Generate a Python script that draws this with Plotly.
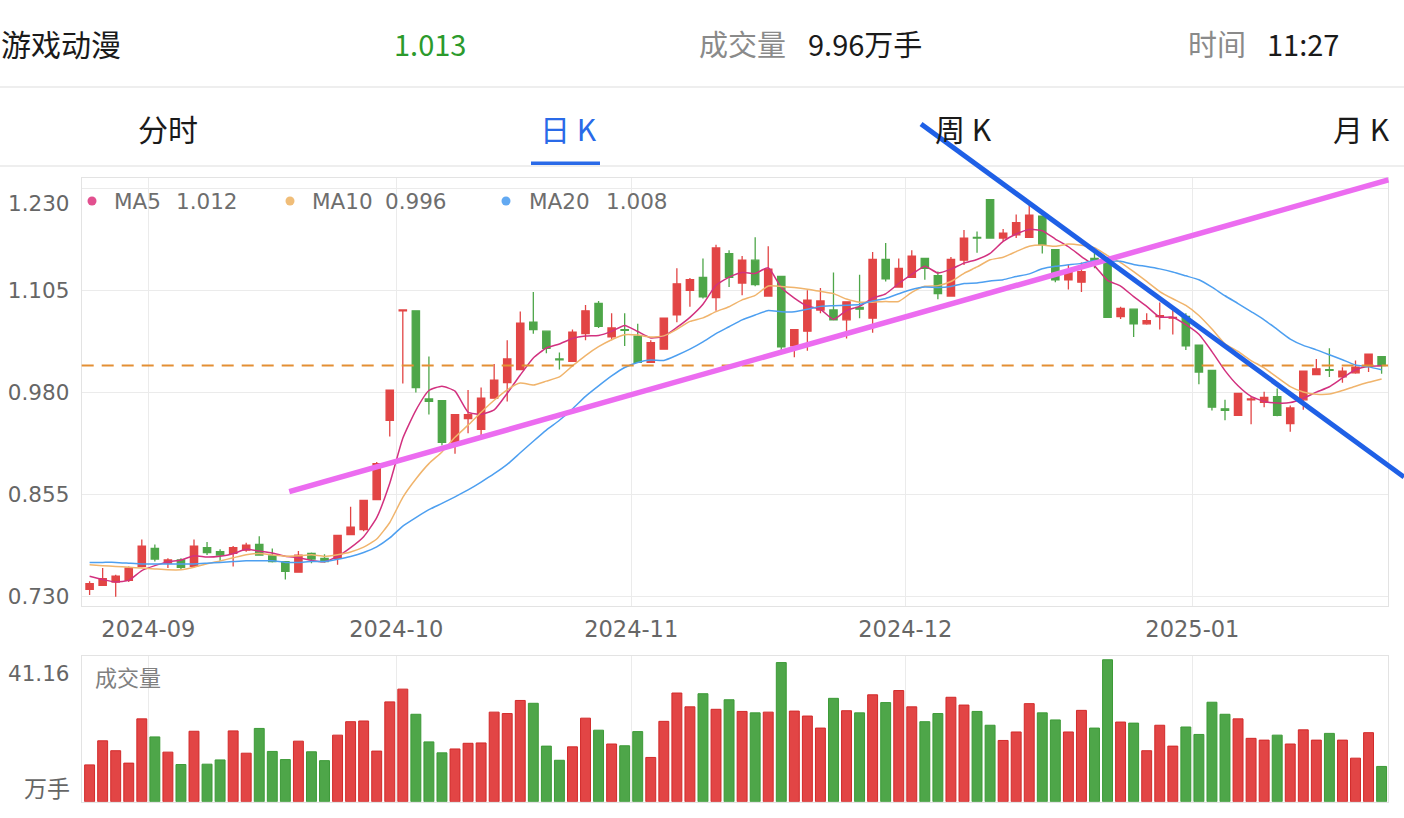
import plotly.graph_objects as go
import pandas as pd

# ---------------- data ----------------
holidays = ["2024-09-16", "2024-09-17", "2024-10-01", "2024-10-02", "2024-10-03",
            "2024-10-04", "2024-10-07", "2025-01-01"]
dates = [d for d in pd.bdate_range("2024-08-26", "2025-01-22")
         if d.strftime("%Y-%m-%d") not in holidays]

open_ = [0.739, 0.744, 0.748, 0.750, 0.767, 0.789, 0.771, 0.775, 0.767, 0.790,
         0.785, 0.783, 0.787, 0.794, 0.780, 0.773, 0.760, 0.783, 0.777, 0.777,
         0.806, 0.812, 0.849, 0.946, 1.080, 1.080, 0.972, 0.970, 0.919, 0.948,
         0.935, 0.973, 0.992, 1.008, 1.066, 1.055, 1.021, 1.018, 1.052, 1.089,
         1.048, 1.057, 1.049, 1.017, 1.033, 1.075, 1.105, 1.121, 1.096, 1.150,
         1.114, 1.142, 1.098, 1.122, 1.037, 1.055, 1.081, 1.081, 1.069, 1.084,
         1.071, 1.143, 1.109, 1.121, 1.144, 1.123, 1.098, 1.142, 1.170, 1.216,
         1.169, 1.173, 1.170, 1.196, 1.155, 1.118, 1.115, 1.144, 1.139, 1.073,
         1.082, 1.064, 1.073, 1.071, 1.073, 1.038, 1.007, 0.960, 0.952, 0.971,
         0.968, 0.975, 0.942, 0.971, 1.002, 1.008, 0.999, 1.004, 1.012, 1.024]
high = [0.749, 0.765, 0.757, 0.767, 0.800, 0.794, 0.777, 0.777, 0.800, 0.797,
        0.788, 0.792, 0.796, 0.804, 0.789, 0.773, 0.786, 0.784, 0.782, 0.805,
        0.840, 0.848, 0.895, 0.983, 1.081, 1.080, 1.024, 0.970, 0.953, 0.983,
        0.986, 1.015, 1.044, 1.079, 1.103, 1.055, 1.029, 1.057, 1.087, 1.092,
        1.077, 1.077, 1.064, 1.044, 1.071, 1.132, 1.120, 1.144, 1.161, 1.154,
        1.147, 1.170, 1.159, 1.122, 1.057, 1.105, 1.108, 1.127, 1.091, 1.124,
        1.152, 1.163, 1.144, 1.154, 1.144, 1.128, 1.146, 1.179, 1.177, 1.216,
        1.180, 1.198, 1.210, 1.196, 1.155, 1.136, 1.139, 1.152, 1.142, 1.085,
        1.082, 1.077, 1.090, 1.081, 1.077, 1.038, 1.007, 0.971, 0.979, 0.975,
        0.981, 0.985, 0.964, 1.006, 1.021, 1.034, 1.011, 1.019, 1.027, 1.024]
low = [0.732, 0.743, 0.730, 0.748, 0.766, 0.773, 0.765, 0.764, 0.766, 0.781,
       0.774, 0.767, 0.785, 0.781, 0.772, 0.751, 0.760, 0.771, 0.772, 0.769,
       0.806, 0.810, 0.849, 0.926, 0.991, 0.980, 0.953, 0.915, 0.905, 0.930,
       0.928, 0.973, 0.969, 1.008, 1.052, 1.028, 1.008, 1.018, 1.044, 1.059,
       1.044, 1.037, 1.016, 1.017, 1.033, 1.066, 1.085, 1.095, 1.080, 1.109,
       1.099, 1.110, 1.098, 1.032, 1.023, 1.031, 1.077, 1.068, 1.046, 1.071,
       1.053, 1.116, 1.109, 1.121, 1.118, 1.094, 1.098, 1.136, 1.151, 1.169,
       1.165, 1.169, 1.170, 1.150, 1.115, 1.106, 1.103, 1.132, 1.072, 1.070,
       1.048, 1.063, 1.057, 1.051, 1.032, 0.990, 0.958, 0.946, 0.952, 0.941,
       0.962, 0.951, 0.932, 0.959, 1.001, 0.999, 0.992, 1.003, 1.005, 1.003]
close = [0.746, 0.752, 0.755, 0.765, 0.792, 0.776, 0.775, 0.766, 0.792, 0.784,
         0.781, 0.790, 0.793, 0.781, 0.773, 0.761, 0.781, 0.776, 0.773, 0.805,
         0.815, 0.848, 0.893, 0.983, 1.081, 0.986, 0.969, 0.919, 0.953, 0.953,
         0.973, 0.995, 1.021, 1.065, 1.057, 1.034, 1.020, 1.054, 1.080, 1.061,
         1.059, 1.056, 1.017, 1.041, 1.071, 1.113, 1.118, 1.097, 1.157, 1.121,
         1.142, 1.112, 1.131, 1.036, 1.057, 1.093, 1.092, 1.069, 1.091, 1.082,
         1.143, 1.119, 1.132, 1.147, 1.132, 1.101, 1.143, 1.169, 1.169, 1.169,
         1.175, 1.188, 1.197, 1.161, 1.118, 1.128, 1.128, 1.140, 1.072, 1.083,
         1.064, 1.068, 1.074, 1.072, 1.037, 1.005, 0.962, 0.958, 0.979, 0.972,
         0.974, 0.952, 0.961, 1.006, 1.009, 1.007, 1.006, 1.011, 1.027, 1.013]
volume = [10.4, 17.2, 14.4, 10.9, 23.4, 18.3, 14.0, 10.5, 19.9, 10.6,
          11.8, 20.0, 13.7, 20.7, 14.2, 11.9, 17.1, 14.1, 11.6, 18.8,
          22.6, 22.8, 14.3, 28.2, 31.8, 24.7, 16.9, 13.8, 14.9, 16.5,
          16.6, 25.3, 24.9, 28.6, 27.8, 15.7, 11.7, 15.5, 23.6, 20.2,
          16.3, 15.8, 19.8, 12.5, 22.7, 30.7, 26.8, 30.5, 26.1, 28.8,
          25.5, 25.1, 25.3, 39.3, 25.6, 24.2, 20.8, 29.2, 25.7, 25.1,
          30.2, 28.0, 31.4, 26.8, 22.6, 24.9, 29.5, 27.3, 25.5, 21.6,
          17.3, 19.7, 27.7, 25.1, 23.1, 19.7, 25.8, 20.8, 40.1, 22.5,
          22.2, 14.4, 21.6, 15.7, 21.1, 19.0, 28.1, 24.7, 23.4, 17.9,
          17.4, 18.8, 16.3, 20.3, 17.4, 19.3, 17.4, 12.3, 19.5, 9.96]

# moving-average values before enough history exists
ma5_head = [0.755, 0.751, 0.748, 0.750]
ma10_head = [0.769, 0.768, 0.767, 0.766, 0.765, 0.764, 0.763, 0.763, 0.766]
ma20_head = [0.772, 0.772, 0.772, 0.771, 0.770, 0.770, 0.770, 0.770, 0.770, 0.771,
             0.772, 0.773, 0.774, 0.774, 0.774, 0.772, 0.772, 0.773, 0.773]

ma_names = ["MA5", "MA10", "MA20"]
ma_legend_values = ["1.012", "0.996", "1.008"]
month_labels = ["2024-09", "2024-10", "2024-11", "2024-12", "2025-01"]
price_ticks = [0.730, 0.855, 0.980, 1.105, 1.230]
price_tick_labels = ["0.730", "0.855", "0.980", "1.105", "1.230"]
last_price = 1.013
volume_top_label = "41.16"
volume_max = 41.16

# hand-drawn trend lines (bar index, price) endpoints
pink_line_x = [15.30, 99.52]
pink_line_y = [0.8586, 1.2402]
blue_line_x = [63.71, 100.72]
blue_line_y = [1.3087, 0.8765]

header_name = "游戏动漫"
header_price = "1.013"
header_vol_label = "成交量"
header_vol = "9.96万手"
header_time_label = "时间"
header_time = "11:27"
tabs = ["分时", "日 K", "周 K", "月 K"]

# ---------------- geometry / style ----------------
W, H = 1404, 818
PL, PR = 81.7, 1388.0
PT, PB = 178.3, 606.0
VT, VB = 656.0, 801.7
XR = [-0.605, 99.49]
YR = [0.7186, 1.2422]

FONT = "Noto Sans CJK SC, Noto Sans, sans-serif"
NUM_FONT = "DejaVu Sans, Noto Sans, sans-serif"
RED, GREEN = "#e24545", "#4ea649"
RED_B, GREEN_B = "#d22a2a", "#3c9a37"
GRID = "#ebebeb"
AXIS_TXT = "#666666"


def pxx(x):
    return x / W


def pxy(y):
    return 1 - y / H


def dx(i):
    return pxx(PL + (i - XR[0]) / (XR[1] - XR[0]) * (PR - PL))


def dy(p):
    return pxy(PB - (p - YR[0]) / (YR[1] - YR[0]) * (PB - PT))


idx = list(range(len(close)))
s = pd.Series(close)
ma5 = list(ma5_head) + list(s.rolling(5).mean().iloc[4:])
ma10 = list(ma10_head) + list(s.rolling(10).mean().iloc[9:])
ma20 = list(ma20_head) + list(s.rolling(20).mean().iloc[19:])

month_ticks = [k - 0.5 for k in range(1, len(dates)) if dates[k].month != dates[k - 1].month]

up = [c >= o for o, c in zip(open_, close)]
vol_fill = [RED if u else GREEN for u in up]
vol_line = [RED_B if u else GREEN_B for u in up]

fig = go.Figure()
fig.add_trace(go.Candlestick(
    x=idx, open=open_, high=high, low=low, close=close,
    increasing=dict(line=dict(color=RED, width=1.3), fillcolor=RED),
    decreasing=dict(line=dict(color=GREEN, width=1.3), fillcolor=GREEN),
    whiskerwidth=0, showlegend=False, hoverinfo="skip", xaxis="x", yaxis="y"))

ma_colors = ["#d2317f", "#f0b46c", "#4d9ff0"]
for vals, col in zip([ma5, ma10, ma20], ma_colors):
    fig.add_trace(go.Scatter(x=idx, y=vals, mode="lines",
                             line=dict(color=col, width=1.5, shape="spline", smoothing=0.5),
                             showlegend=False, hoverinfo="skip", xaxis="x", yaxis="y"))

fig.add_trace(go.Bar(x=idx, y=volume, width=0.76,
                     marker=dict(color=vol_fill, line=dict(color=vol_line, width=1)),
                     showlegend=False, hoverinfo="skip", xaxis="x2", yaxis="y2"))

axis_common = dict(range=XR, tickmode="array", tickvals=month_ticks, showgrid=True,
                   gridcolor=GRID, gridwidth=1, zeroline=False, showline=True,
                   linecolor="#e3e3e3", linewidth=1, mirror=True, fixedrange=True,
                   automargin=False)

fig.update_layout(
    template="none",
    width=W, height=H, margin=dict(l=0, r=0, t=0, b=0, pad=0, autoexpand=False),
    paper_bgcolor="white", plot_bgcolor="white",
    boxgap=0.2, bargap=0.2,
    font=dict(family=FONT, color=AXIS_TXT),
    xaxis=dict(domain=[pxx(PL), pxx(PR)], anchor="y", ticktext=month_labels,
               ticks="outside", ticklen=3, tickcolor="rgba(0,0,0,0)",
               tickfont=dict(size=22.5, color=AXIS_TXT, family=NUM_FONT),
               rangeslider=dict(visible=False), **axis_common),
    yaxis=dict(domain=[pxy(PB), pxy(PT)], anchor="x", range=YR, tickmode="array",
               tickvals=price_ticks, ticktext=price_tick_labels[:-1] + [""],
               ticks="outside", ticklen=7, tickcolor="rgba(0,0,0,0)",
               tickfont=dict(size=21.5, color=AXIS_TXT, family=NUM_FONT),
               showgrid=True, gridcolor=GRID, zeroline=False, showline=True,
               linecolor="#e3e3e3", mirror=True, fixedrange=True, automargin=False),
    xaxis2=dict(domain=[pxx(PL), pxx(PR)], anchor="y2", showticklabels=False,
                ticks="", ticktext=month_labels, **axis_common),
    yaxis2=dict(domain=[pxy(VB), pxy(VT)], anchor="x2", range=[0, volume_max],
                showgrid=False, showticklabels=False, zeroline=False, showline=True,
                linecolor="#e3e3e3", mirror=True, fixedrange=True, automargin=False),
)

shapes = []
# header separators and tab underline
for yy in [87, 166]:
    shapes.append(dict(type="line", xref="paper", yref="paper", x0=0, x1=1,
                       y0=pxy(yy), y1=pxy(yy), line=dict(color="#e8e8e8", width=1.5)))
shapes.append(dict(type="rect", xref="paper", yref="paper", x0=pxx(531), x1=pxx(600),
                   y0=pxy(165), y1=pxy(161.5), fillcolor="#2a6ae8", line=dict(width=0)))
# last price dashed line
shapes.append(dict(type="line", xref="paper", yref="y", x0=pxx(PL), x1=pxx(PR),
                   y0=last_price, y1=last_price, layer="above",
                   line=dict(color="#e38f34", width=2, dash="12px,8px")))
# legend dots
for xx, col in zip([92, 290, 506], ["#e2508f", "#f0bd78", "#62a9f2"]):
    shapes.append(dict(type="circle", xref="paper", yref="paper",
                       x0=pxx(xx - 4.5), x1=pxx(xx + 4.5), y0=pxy(201 + 4.5), y1=pxy(201 - 4.5),
                       fillcolor=col, line=dict(width=0)))
# trend lines
shapes.append(dict(type="line", xref="paper", yref="paper",
                   x0=dx(pink_line_x[0]), x1=dx(pink_line_x[1]),
                   y0=dy(pink_line_y[0]), y1=dy(pink_line_y[1]),
                   line=dict(color="#ec6cf0", width=5.5)))
shapes.append(dict(type="line", xref="paper", yref="paper",
                   x0=dx(blue_line_x[0]), x1=dx(blue_line_x[1]),
                   y0=dy(blue_line_y[0]), y1=dy(blue_line_y[1]),
                   line=dict(color="#1f60e6", width=5)))
fig.update_layout(shapes=shapes)

ann = []


def add_text(text, x, y, size, color, xanchor="left", family=FONT):
    ann.append(dict(text=text, x=pxx(x), y=pxy(y), xref="paper", yref="paper",
                    xanchor=xanchor, yanchor="middle", showarrow=False,
                    font=dict(size=size, color=color, family=family)))


add_text(header_name, -1, 43, 30, "#1a1a1a")
add_text(header_price, 430, 43, 29, "#2c9a2c", "center")
add_text(header_vol_label, 697, 43, 29, "#8a8a8a")
add_text(header_vol, 806, 43, 29, "#1a1a1a")
add_text(header_time_label, 1186, 43, 29, "#8a8a8a")
add_text(header_time, 1265, 43, 29, "#1a1a1a")

for t, cx in zip(tabs, [168, 568, 963, 1361]):
    add_text(t, cx, 128, 30, "#2a6ae8" if t.startswith("日") else "#1a1a1a", "center")

for name, val, xn, xv in zip(ma_names, ma_legend_values, [112, 310, 527], [174, 383, 604]):
    add_text(name, xn, 202, 21.5, "#6e6e6e", family=NUM_FONT)
    add_text(val, xv, 202, 21.5, "#6e6e6e", family=NUM_FONT)

# top price label sits just under its grid line
ann.append(dict(text=price_tick_labels[-1], x=pxx(72), y=price_ticks[-1], xref="paper", yref="y",
                xanchor="right", yanchor="middle", yshift=-15, showarrow=False,
                font=dict(size=21.5, color=AXIS_TXT, family=NUM_FONT)))

add_text(volume_top_label, 72, 673, 21.5, AXIS_TXT, "right", family=NUM_FONT)
add_text("万手", 72, 787, 23, AXIS_TXT, "right")
add_text("成交量", 93, 676, 22, "#808080")

fig.update_layout(annotations=ann)

fig.write_html("out.html", config={"displayModeBar": False},
               post_script="document.body.style.margin='0';document.body.style.overflow='hidden';")
